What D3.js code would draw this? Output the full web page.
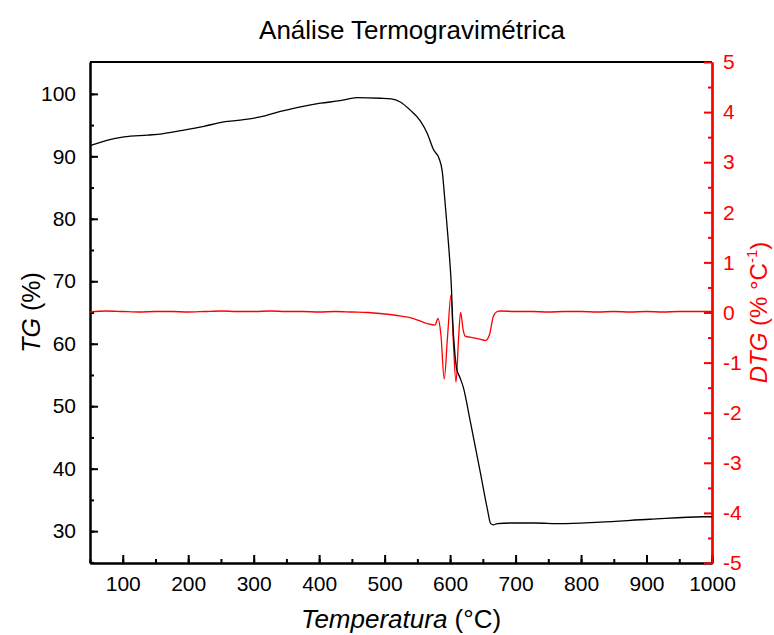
<!DOCTYPE html>
<html>
<head>
<meta charset="utf-8">
<script src="https://cdn.jsdelivr.net/npm/d3@7"></script>
<style>
  body { margin: 0; background: #fff; }
  svg { font-family: Arial, "Liberation Sans", sans-serif; }
  .axis path, .axis line { stroke-width: 2px; }
  .axis text { font-size: 21px; font-family: Arial, "Liberation Sans", sans-serif; }
</style>
</head>
<body>
<svg id="tgSVG" width="774" height="635"></svg>
<script>
// TG curve (temperature in °C, mass in %)
var tgTemp = [50, 77, 102, 138, 160, 188, 224, 254, 280, 310, 341, 366, 402, 432, 458, 493, 510, 524, 539, 555, 565, 575, 583, 588, 592, 596, 599, 602, 604, 607, 610, 615, 620, 631, 646, 657, 662, 666, 672, 692, 730, 768, 829, 905, 987, 1000];
var tgVal  = [91.7, 92.6, 93.1, 93.4, 93.6, 94.1, 94.8, 95.5, 95.8, 96.3, 97.2, 97.8, 98.5, 98.9, 99.4, 99.3, 99.2, 98.7, 97.4, 95.6, 93.7, 91.0, 89.7, 87.6, 83.0, 78.0, 74.0, 69.0, 63.5, 58.8, 56.0, 54.6, 53.1, 47.5, 39.5, 33.5, 31.2, 31.0, 31.2, 31.3, 31.3, 31.2, 31.45, 31.9, 32.3, 32.3];

// DTG curve (% per °C)
var dtgTemp = [50, 75, 100, 125, 150, 175, 200, 225, 250, 275, 300, 325, 350, 375, 400, 425, 450, 475, 493, 519, 544, 565, 577, 581.5, 586, 591, 596, 601.4, 605, 609, 613, 616, 620, 623, 634, 645, 654, 660, 666, 672, 677, 700, 725, 750, 775, 800, 825, 850, 875, 900, 925, 950, 975, 1000];
var dtgVal  = [0.01, 0.03, 0.02, 0.01, 0.02, 0.02, 0.01, 0.02, 0.03, 0.02, 0.02, 0.03, 0.02, 0.02, 0.01, 0.02, 0.01, 0.0, -0.02, -0.06, -0.12, -0.22, -0.25, -0.12, -0.45, -1.33, -0.5, 0.35, -0.6, -1.39, -0.5, 0.0, -0.35, -0.47, -0.5, -0.53, -0.56, -0.45, -0.08, 0.02, 0.03, 0.02, 0.02, 0.01, 0.02, 0.02, 0.01, 0.02, 0.01, 0.02, 0.01, 0.02, 0.02, 0.02];

var xTicks = [100, 200, 300, 400, 500, 600, 700, 800, 900, 1000];
var tgTicks = [30, 40, 50, 60, 70, 80, 90, 100];
var dtgTicks = [-5, -4, -3, -2, -1, 0, 1, 2, 3, 4, 5];

var svg = d3.select("svg#tgSVG"),
    margin = {top: 62, right: 62, bottom: 72, left: 90},
    width = +svg.attr("width") - margin.left - margin.right,
    height = +svg.attr("height") - margin.top - margin.bottom;

var x = d3.scaleLinear().domain([50, 1000]).range([0, width]),
    y = d3.scaleLinear().domain([24.9, 105.1]).range([height, 0]),
    y2 = d3.scaleLinear().domain([-5, 5]).range([height, 0]);

// plain hyphen minus, no thousands comma
var fmt = function(d) { return String(d); };

var g = svg.append("g")
    .attr("transform", "translate(" + margin.left + "," + margin.top + ")");

var tgData = tgTemp.map(function(t, i) { return {t: t, v: tgVal[i]}; });
var dtgData = dtgTemp.map(function(t, i) { return {t: t, v: dtgVal[i]}; });

// minor ticks first
g.append("g").attr("class", "axis")
    .attr("transform", "translate(0," + height + ")")
    .call(d3.axisBottom(x).tickValues(d3.range(50, 1001, 50)).tickSize(-4).tickSizeOuter(0).tickFormat(""));
g.append("g").attr("class", "axis")
    .call(d3.axisLeft(y).tickValues(d3.range(25, 105, 5)).tickSize(-4).tickSizeOuter(0).tickFormat(""));
g.append("g").attr("class", "axis")
    .attr("transform", "translate(" + width + ",0)")
    .call(d3.axisRight(y2).tickValues(d3.range(-4.5, 5, 1)).tickSize(-4).tickSizeOuter(0).tickFormat(""))
    .selectAll("line").attr("stroke", "red");

// top border
g.append("line")
    .attr("x1", 0).attr("x2", width).attr("y1", 0).attr("y2", 0)
    .attr("stroke", "#000").attr("stroke-width", 2);

g.append("g")
    .attr("class", "axis axis--x")
    .attr("transform", "translate(0," + height + ")")
    .call(d3.axisBottom(x).tickValues(xTicks).tickSize(-8).tickSizeOuter(0).tickPadding(13).tickFormat(fmt));

g.append("g")
    .attr("class", "axis axis--y")
    .call(d3.axisLeft(y).tickValues(tgTicks).tickSize(-8).tickSizeOuter(0).tickPadding(14).tickFormat(fmt));

var right = g.append("g")
    .attr("class", "axis axis--y2")
    .attr("transform", "translate(" + width + ",0)")
    .call(d3.axisRight(y2).tickValues(dtgTicks).tickSize(-8).tickSizeOuter(0).tickPadding(11).tickFormat(fmt));
right.select("path").attr("stroke", "red");
right.selectAll("line").attr("stroke", "red");
right.selectAll("text").attr("fill", "red");

var line = d3.line()
    .x(function(d) { return x(d.t); })
    .curve(d3.curveMonotoneX);

g.append("path")
    .datum(dtgData)
    .attr("fill", "none")
    .attr("stroke", "red")
    .attr("stroke-width", 1.3)
    .attr("d", line.y(function(d) { return y2(d.v); }));

g.append("path")
    .datum(tgData)
    .attr("fill", "none")
    .attr("stroke", "#000")
    .attr("stroke-width", 1.3)
    .attr("d", line.y(function(d) { return y(d.v); }));

// titles
svg.append("text")
    .attr("x", 412).attr("y", 39)
    .attr("text-anchor", "middle")
    .style("font-size", "26px")
    .text("Análise Termogravimétrica");

var xt = svg.append("text")
    .attr("x", margin.left + width / 2).attr("y", 628)
    .attr("text-anchor", "middle")
    .style("font-size", "26px");
xt.append("tspan").style("font-style", "italic").text("Temperatura");
xt.append("tspan").text(" (°C)");

var yt = svg.append("text")
    .attr("transform", "translate(40," + (margin.top + height / 2) + ") rotate(-90)")
    .attr("text-anchor", "middle")
    .style("font-size", "25px");
yt.append("tspan").style("font-style", "italic").text("TG");
yt.append("tspan").text(" (%)");

var y2t = svg.append("text")
    .attr("transform", "translate(767," + (margin.top + height / 2) + ") rotate(-90)")
    .attr("text-anchor", "middle")
    .attr("fill", "red")
    .style("font-size", "24px");
y2t.append("tspan").style("font-style", "italic").text("DTG");
y2t.append("tspan").text(" (% °C");
y2t.append("tspan").attr("dy", -10).style("font-size", "15px").text("-1");
y2t.append("tspan").attr("dy", 10).text(")");
</script>
</body>
</html>
